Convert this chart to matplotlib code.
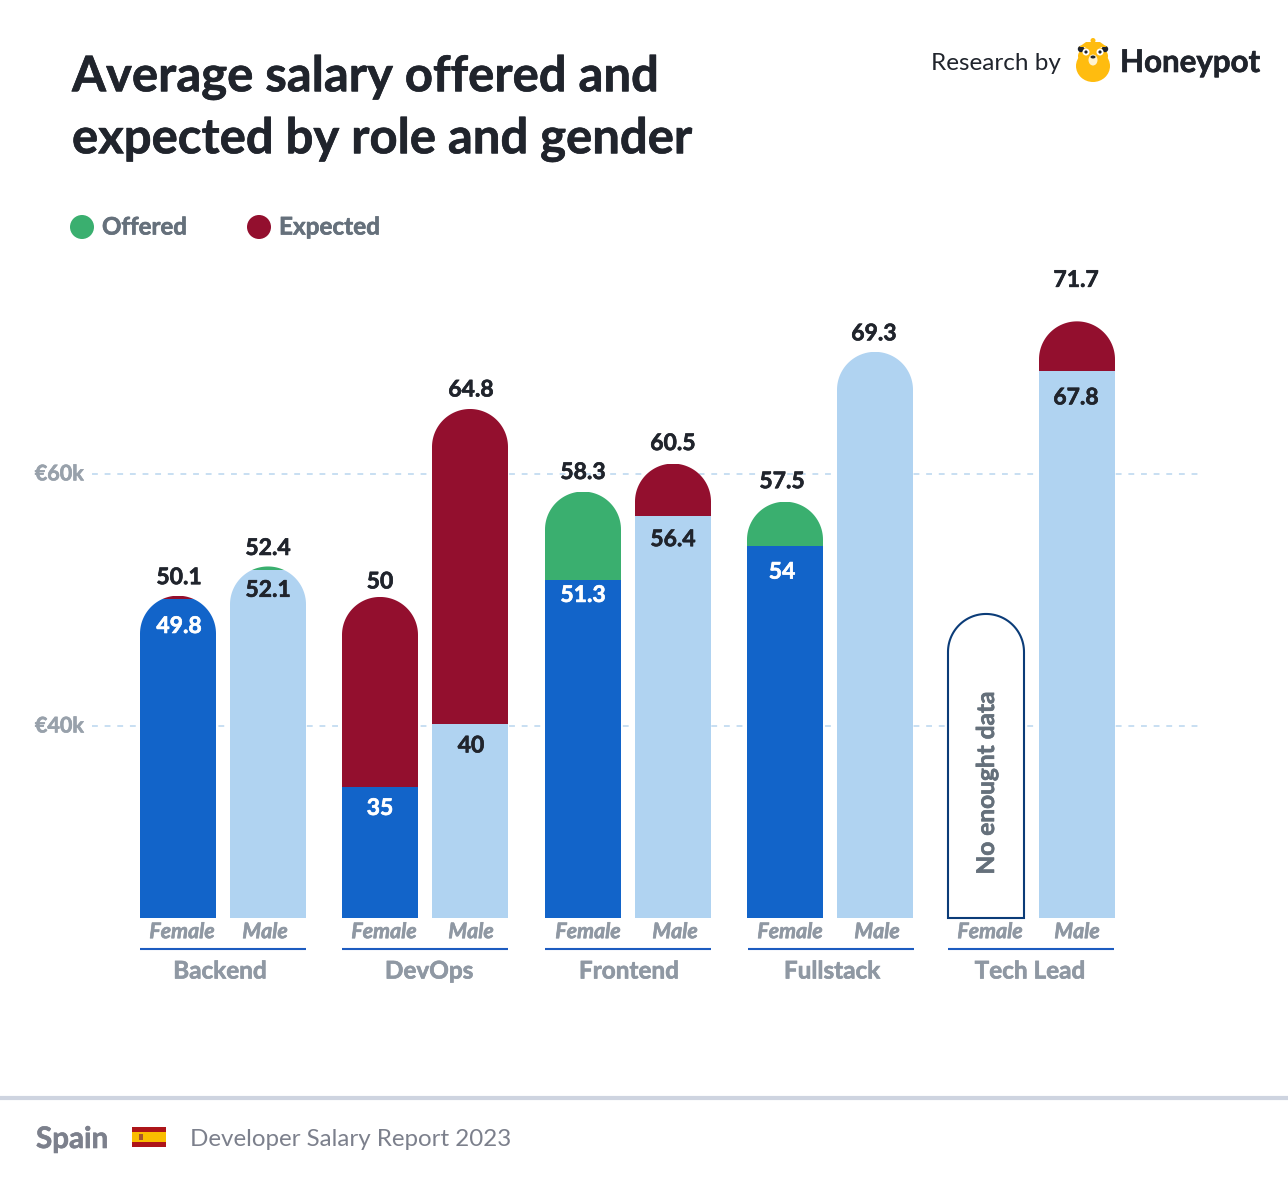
import numpy as np
import matplotlib
matplotlib.use("Agg")
import matplotlib.pyplot as plt
import matplotlib.patheffects as pe
from matplotlib.patches import Circle, Ellipse, PathPatch, Polygon, Rectangle
from matplotlib.path import Path

plt.rcParams['font.family'] = ['Lato', 'DejaVu Sans']

# data
roles = ["Backend", "DevOps", "Frontend", "Fullstack", "Tech Lead"]
genders = ["Female", "Male"] * 5
upper = [50.1, 52.4, 50, 64.8, 58.3, 60.5, 57.5, 69.3, None, 71.7]
lower = [49.8, 52.1, 35, 40, 51.3, 56.4, 54, None, None, 67.8]
cap = ["Expected", "Offered", "Expected", "Expected", "Offered",
       "Expected", "Offered", None, None, "Expected"]
no_data_height = 48.66
grid_vals = [39.84, 59.69]
grid_labels = ["€40k", "€60k"]

# colours
GREEN = "#3aaf6f"
RED = "#930f2e"
BLUE = "#1264c9"
LIGHT = "#b0d3f1"
DARK = "#20242c"
GREY = "#8f98a3"
SLATE = "#65707b"
cap_colors = {"Offered": GREEN, "Expected": RED}

# layout, pixels of the 1288x1182 picture
W, H = 1288, 1182
bar_left = [140, 230, 342, 432, 545, 635, 747, 837, 948, 1039]
bar_w = 76
gender_x = [182, 265, 384, 471, 588, 675, 790, 877, 990, 1077]
role_x = [220, 429, 629, 832, 1030]
rule_x = [(140, 306), (342, 508), (545, 711), (748, 914), (948, 1114)]
base_val = 24.72
px_per_k = 12.7
low_off = [27, 20, 21, 22, 15, 24, 26, 0, 0, 27]
top_off = [18, 18, 15, 19, 19, 20, 20, 18, 0, 41]
label_dx = [1, 0, 0, 1, 0, 0, -3, -1, 0, -1]

fig = plt.figure(figsize=(W / 100, H / 100), dpi=100)

# overlay in pixel coords for title, legend, logo, footer
bg = fig.add_axes([0, 0, 1, 1], zorder=0)
bg.set_xlim(0, W)
bg.set_ylim(H, 0)
bg.axis("off")

# chart axes, x in pixels and y in salary
ax_l, ax_r, ax_top, ax_bot = 92, 1204, 250, 918
ax = fig.add_axes([ax_l / W, 1 - ax_bot / H, (ax_r - ax_l) / W, (ax_bot - ax_top) / H], zorder=1)
ax.patch.set_alpha(0)
ax.set_xlim(ax_l, ax_r)
ax.set_ylim(base_val, base_val + (ax_bot - ax_top) / px_per_k)
for s in ax.spines.values():
    s.set_visible(False)
ax.set_yticks(grid_vals)
ax.set_yticklabels(grid_labels, fontsize=15.5, fontweight="bold", color="#98a1ab", va="center")
for t in ax.get_yticklabels():
    t.set_transform(t.get_transform() + matplotlib.transforms.ScaledTranslation(0, 1.5 / 72, fig.dpi_scale_trans))
ax.set_xticks(gender_x)
ax.set_xticklabels(genders, fontsize=15.4, fontweight="bold", fontstyle="italic", color=GREY)
ax.tick_params(axis="y", length=0, pad=6)
ax.tick_params(axis="x", length=0, pad=3)
ax.grid(axis="y", color="#c8dff2", linestyle=(0, (3, 3.5)), linewidth=1.4)
ax.set_axisbelow(True)


def rounded(left, top):
    # bar outline with a round top
    r_y = (bar_w / 2) / px_per_k
    t = np.linspace(np.pi, 0, 60)
    xs = left + bar_w / 2 + bar_w / 2 * np.cos(t)
    ys = top - r_y + r_y * np.sin(t)
    pts = [(left, base_val)] + list(zip(xs, ys)) + [(left + bar_w, base_val), (left, base_val)]
    return Path(pts, closed=True)


for i in range(10):
    left = bar_left[i]
    mid = left + bar_w / 2
    body = BLUE if genders[i] == "Female" else LIGHT
    if upper[i] is None:
        ax.add_patch(PathPatch(rounded(left, no_data_height), facecolor="white",
                               edgecolor="#0b3c78", linewidth=1.5, zorder=3, clip_on=False))
        ax.text(mid + 0.5, 35.35, "No enought data", rotation=90, ha="center", va="center",
                fontsize=17.6, fontweight="bold", color=SLATE, zorder=4)
        continue
    low = lower[i] if lower[i] is not None else upper[i]
    clip = PathPatch(rounded(left, upper[i]), transform=ax.transData)
    bars = [ax.bar(mid, low - base_val, bar_w, bottom=base_val, color=body, zorder=3)[0]]
    if cap[i] is not None:
        bars.append(ax.bar(mid, upper[i] - low, bar_w, bottom=low, color=cap_colors[cap[i]], zorder=3)[0])
    for b in bars:
        b.set_clip_path(clip)
    ax.annotate(str(upper[i]), (mid + label_dx[i], upper[i]), xytext=(0, top_off[i] * 0.72),
                textcoords="offset points", ha="center", va="center",
                fontsize=16.5, fontweight="bold", color=DARK, zorder=4)
    if lower[i] is not None:
        ax.annotate(str(lower[i]), (mid + label_dx[i], lower[i]), xytext=(0, -low_off[i] * 0.72),
                    textcoords="offset points", ha="center", va="center", fontsize=16.5, fontweight="bold",
                    color="white" if genders[i] == "Female" else DARK, zorder=4)

# role labels and rules
for name, x, (x0, x1) in zip(roles, role_x, rule_x):
    bg.plot([x0, x1], [948.5, 948.5], color="#1d5cc0", linewidth=1.5, solid_capstyle="butt")
    bg.text(x, 971, name, ha="center", va="center", fontsize=17.5, fontweight="bold", color=GREY)

# title
bg.text(72, 77, "Average salary offered and", va="center", fontsize=35.3, fontweight="bold", color=DARK)
bg.text(72, 139, "expected by role and gender", va="center", fontsize=35.3, fontweight="bold", color=DARK)

# legend
bg.add_patch(Circle((82, 227), 12, color=GREEN, lw=0))
bg.text(102, 227, "Offered", va="center", fontsize=17.3, fontweight="bold", color=SLATE)
bg.add_patch(Circle((259, 227), 12, color=RED, lw=0))
bg.text(279, 227, "Expected", va="center", fontsize=17.5, fontweight="bold", color=SLATE)

# logo
YEL = "#ffbc0f"
bg.text(931, 63, "Research by", va="center", fontsize=17.5, color=DARK)
bg.add_patch(Ellipse((1093, 66), 34, 32, color=YEL, lw=0))
bg.add_patch(Ellipse((1093, 56), 30, 20, color=YEL, lw=0))
bg.add_patch(Circle((1081, 49), 3.2, color=DARK, lw=0))
bg.add_patch(Circle((1105, 49), 3.2, color=DARK, lw=0))
bg.add_patch(Polygon([(1079, 47), (1107, 47), (1100, 42), (1086, 42)], color=YEL, lw=0))
bg.add_patch(Circle((1093, 40.5), 2.5, color=YEL, lw=0))
bg.add_patch(Circle((1086, 52), 3.5, color="white", lw=0))
bg.add_patch(Circle((1100, 52), 3.5, color="white", lw=0))
bg.add_patch(Circle((1086, 52), 1.6, color=DARK, lw=0))
bg.add_patch(Circle((1100, 52), 1.6, color=DARK, lw=0))
bg.add_patch(Ellipse((1093, 60), 9, 11, color="#fff3d0", lw=0))
bg.add_patch(Ellipse((1093, 57), 5, 3, color=DARK, lw=0))
bg.text(1120, 63, "Honeypot", va="center", fontsize=22.5, fontweight="bold", color=DARK)

# footer
bg.plot([0, W], [1098, 1098], color="#ced4e0", linewidth=3, solid_capstyle="round")
bg.text(36, 1139, "Spain", va="center", fontsize=21.3, fontweight="bold", color="#7c808c")
bg.add_patch(Rectangle((132, 1127), 34, 20, color="#ad1519", lw=0))
bg.add_patch(Rectangle((132, 1132), 34, 10, color="#fabd00", lw=0))
bg.add_patch(Rectangle((139, 1134), 4, 6, color="#a5552f", lw=0))
bg.text(190, 1139, "Developer Salary Report 2023", va="center", fontsize=17.4, color="#7c808c")

# Lato bold is lighter than the original face
for a in (ax, bg):
    for t in a.findobj(matplotlib.text.Text):
        if t.get_fontweight() == "bold":
            t.set_path_effects([pe.withStroke(linewidth=0.45, foreground=t.get_color())])

fig.savefig("out.png", dpi=100)
